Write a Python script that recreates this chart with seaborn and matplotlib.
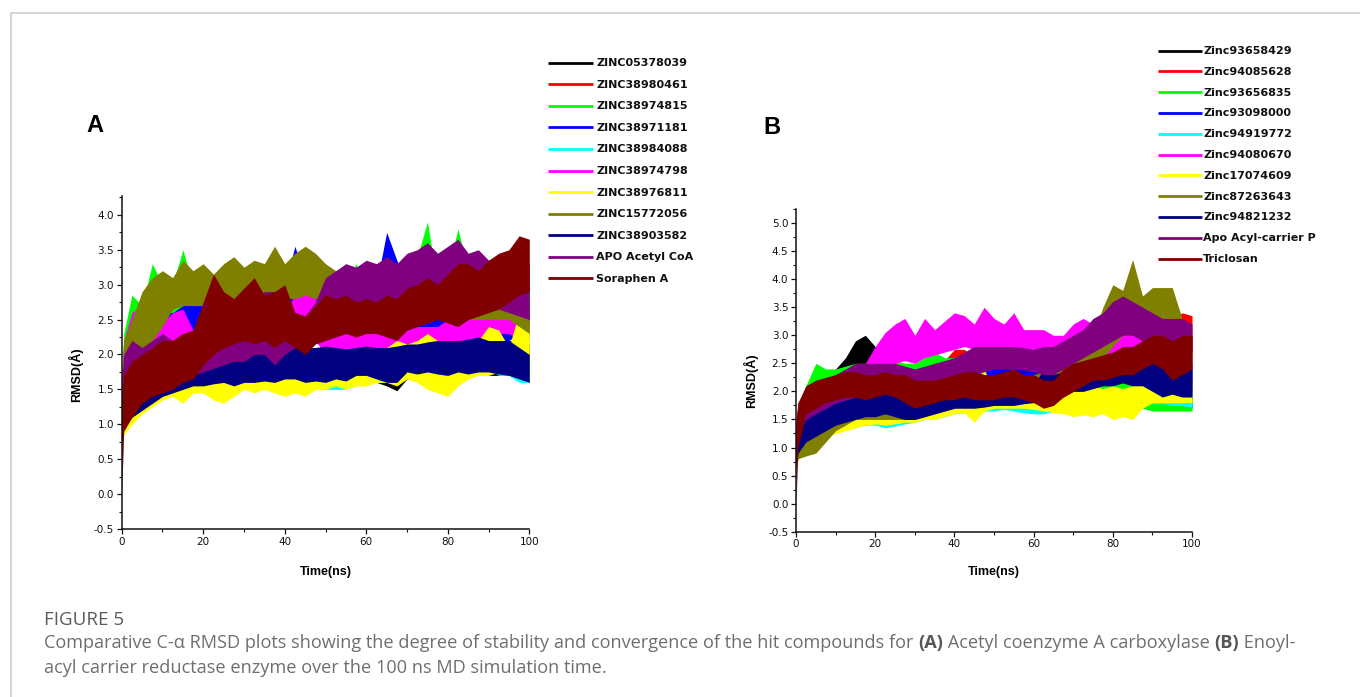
import pandas as pd
import seaborn as sns
import matplotlib.pyplot as plt
from matplotlib.ticker import MultipleLocator

# time axis (ns), shared by every trace
TIME = [0, 0.5, 2.5, 5, 7.5, 10, 12.5, 15, 17.5, 20, 22.5, 25, 27.5, 30, 32.5, 35, 37.5, 40,
        42.5, 45, 47.5, 50, 52.5, 55, 57.5, 60, 62.5, 65, 67.5, 70, 72.5, 75, 77.5, 80,
        82.5, 85, 87.5, 90, 92.5, 95, 97.5, 100]

A_LABELS = ['ZINC05378039', 'ZINC38980461', 'ZINC38974815', 'ZINC38971181', 'ZINC38984088',
            'ZINC38974798', 'ZINC38976811', 'ZINC15772056', 'ZINC38903582', 'APO Acetyl CoA',
            'Soraphen A']
B_LABELS = ['Zinc93658429', 'Zinc94085628', 'Zinc93656835', 'Zinc93098000', 'Zinc94919772',
            'Zinc94080670', 'Zinc17074609', 'Zinc87263643', 'Zinc94821232',
            'Apo Acyl-carrier P', 'Triclosan']
COLORS = ['#000000', '#ff0000', '#00ff00', '#0000ff', '#00ffff', '#ff00ff', '#ffff00',
          '#808000', '#000080', '#800080', '#800000']

# ---- panel A: lower / upper envelope of each RMSD trace (A) ----
a_black_lo = [0.8, 1.1, 1.2, 1.35, 1.45, 1.5, 1.5, 1.55, 1.5, 1.55, 1.5, 1.5, 1.45, 1.5, 1.55, 1.5, 1.55, 1.55,
              1.6, 1.55, 1.6, 1.6, 1.6, 1.6, 1.6, 1.6, 1.6, 1.55, 1.48, 1.65, 1.65, 1.7, 1.7, 1.7, 1.7, 1.7,
              1.75, 1.7, 1.7, 1.7, 1.7, 1.7]
a_black_hi = [1.4, 1.7, 1.8, 1.9, 1.95, 2.0, 2.0, 2.05, 2.0, 2.05, 2.0, 2.0, 2.0, 2.05, 2.05, 2.0, 2.05, 2.05,
              2.1, 2.05, 2.1, 2.1, 2.1, 2.1, 2.1, 2.1, 2.1, 2.15, 2.1, 2.15, 2.2, 2.2, 2.2, 2.2, 2.2, 2.2,
              2.25, 2.2, 2.2, 2.2, 2.2, 2.15]
a_red_lo = [0.8, 1.2, 1.4, 1.6, 1.8, 1.9, 2.0, 2.0, 2.1, 2.1, 2.2, 2.2, 2.2, 2.3, 2.3, 2.3, 2.3, 2.3,
            2.3, 2.3, 2.4, 2.4, 2.5, 2.5, 2.5, 2.5, 2.5, 2.5, 2.5, 2.5, 2.6, 2.6, 2.6, 2.6, 2.6, 2.6,
            2.6, 2.6, 2.6, 2.6, 2.6, 2.6]
a_red_hi = [1.5, 1.9, 2.2, 2.4, 2.5, 2.6, 2.7, 2.7, 2.8, 2.8, 2.9, 2.9, 2.9, 3.0, 3.0, 3.0, 3.0, 3.0,
            3.0, 3.0, 3.0, 3.1, 3.15, 3.3, 3.1, 3.1, 3.0, 3.0, 3.1, 3.1, 3.1, 3.2, 3.1, 3.2, 3.2, 3.2,
            3.2, 3.2, 3.2, 3.2, 3.2, 3.2]
a_green_lo = [0.9, 1.4, 1.6, 1.8, 1.9, 2.0, 2.0, 2.1, 2.1, 2.1, 2.2, 2.2, 2.2, 2.2, 2.2, 2.2, 2.2, 2.2,
              2.2, 2.2, 2.2, 2.2, 2.2, 2.2, 2.2, 2.2, 2.2, 2.2, 2.2, 2.2, 2.3, 2.3, 2.3, 2.3, 2.3, 2.3,
              2.3, 2.3, 2.3, 2.3, 2.3, 2.3]
a_green_hi = [1.7, 2.3, 2.85, 2.7, 3.3, 3.0, 3.0, 3.5, 3.0, 2.9, 2.9, 2.9, 2.9, 2.9, 2.9, 2.9, 2.9, 2.9,
              2.9, 2.9, 2.9, 2.9, 3.0, 3.0, 3.3, 3.0, 3.0, 3.0, 3.0, 3.1, 3.4, 3.9, 3.0, 3.2, 3.8, 3.2,
              3.1, 3.1, 3.0, 3.0, 3.0, 2.9]
a_blue_lo = [0.9, 1.3, 1.6, 1.8, 1.9, 2.0, 2.1, 2.2, 2.3, 2.3, 2.2, 2.2, 2.2, 2.2, 2.2, 2.2, 2.2, 2.2,
             2.3, 2.3, 2.3, 2.3, 2.3, 2.3, 2.3, 2.3, 2.3, 2.3, 2.3, 2.3, 2.3, 2.3, 2.3, 2.2, 2.2, 2.2,
             2.2, 2.2, 2.2, 2.2, 2.3, 2.3]
a_blue_hi = [1.6, 2.1, 2.3, 2.5, 2.5, 2.6, 2.6, 2.7, 2.75, 2.75, 2.8, 2.8, 2.8, 2.9, 2.9, 2.9, 3.0, 3.0,
             3.55, 3.1, 3.0, 3.0, 3.0, 3.0, 3.0, 3.0, 3.0, 3.75, 3.35, 3.0, 3.0, 3.0, 3.0, 3.0, 3.0, 2.9,
             2.8, 2.7, 2.7, 2.7, 2.65, 2.6]
a_cyan_lo = [0.8, 1.0, 1.2, 1.3, 1.4, 1.45, 1.5, 1.5, 1.5, 1.5, 1.5, 1.5, 1.5, 1.5, 1.5, 1.5, 1.5, 1.5,
             1.5, 1.5, 1.5, 1.5, 1.5, 1.5, 1.55, 1.6, 1.6, 1.6, 1.6, 1.7, 1.8, 1.9, 2.0, 2.0, 1.9, 1.8,
             1.8, 1.8, 1.7, 1.7, 1.6, 1.6]
a_cyan_hi = [1.4, 1.7, 1.9, 2.0, 2.0, 2.1, 2.1, 2.2, 2.1, 2.1, 2.0, 2.0, 2.0, 2.0, 2.0, 2.0, 2.0, 1.95,
             1.95, 2.0, 2.0, 2.0, 1.95, 1.95, 2.0, 2.0, 2.0, 2.0, 2.05, 2.1, 2.2, 2.3, 2.3, 2.3, 2.25, 2.2,
             2.2, 2.2, 2.1, 2.1, 2.0, 2.0]
a_magenta_lo = [1.0, 1.5, 2.0, 2.1, 2.0, 2.0, 2.05, 2.1, 2.1, 2.0, 2.0, 2.0, 2.0, 2.0, 2.0, 2.0, 2.0, 2.0,
                2.2, 2.4, 2.2, 2.0, 2.0, 2.0, 2.0, 2.0, 2.0, 2.0, 2.0, 2.05, 2.05, 2.05, 2.1, 2.1, 2.2, 2.2,
                2.2, 2.2, 2.3, 2.3, 2.2, 2.2]
a_magenta_hi = [1.6, 2.2, 2.6, 2.7, 2.5, 2.45, 2.6, 2.65, 2.35, 2.3, 2.3, 2.35, 2.4, 2.4, 2.4, 2.4, 2.4, 2.6,
                2.85, 2.9, 2.8, 2.5, 2.4, 2.3, 2.3, 2.3, 2.3, 2.3, 2.3, 2.35, 2.4, 2.4, 2.4, 2.5, 2.5, 2.6,
                2.65, 2.6, 2.65, 2.6, 2.55, 2.5]
a_yellow_lo = [0.7, 0.85, 1.0, 1.15, 1.25, 1.35, 1.4, 1.3, 1.45, 1.45, 1.35, 1.3, 1.4, 1.5, 1.45, 1.5, 1.45, 1.4,
               1.45, 1.4, 1.5, 1.5, 1.55, 1.5, 1.55, 1.55, 1.6, 1.6, 1.55, 1.65, 1.6, 1.5, 1.45, 1.4, 1.55, 1.65,
               1.7, 1.7, 1.75, 1.75, 1.8, 1.7]
a_yellow_hi = [1.1, 1.3, 1.45, 1.6, 1.65, 1.7, 1.75, 1.8, 1.75, 1.75, 1.7, 1.75, 1.8, 1.8, 1.8, 1.85, 1.8, 1.8,
               1.85, 1.85, 1.85, 1.85, 1.85, 1.9, 1.9, 1.9, 1.95, 2.1, 2.2, 2.15, 2.2, 2.3, 2.2, 2.1, 2.0, 2.1,
               2.2, 2.4, 2.35, 2.1, 2.6, 2.4]
a_olive_lo = [0.9, 1.5, 1.9, 2.0, 2.2, 2.4, 2.65, 2.7, 2.7, 2.7, 2.7, 2.7, 2.75, 2.8, 2.8, 2.8, 2.8, 2.8,
              2.8, 2.85, 2.8, 2.7, 2.7, 2.7, 2.6, 2.5, 2.4, 2.4, 2.4, 2.5, 2.6, 2.7, 2.7, 2.6, 2.5, 2.5,
              2.5, 2.5, 2.5, 2.5, 2.4, 2.3]
a_olive_hi = [1.6, 2.2, 2.5, 2.9, 3.1, 3.2, 3.1, 3.35, 3.2, 3.3, 3.15, 3.3, 3.4, 3.25, 3.35, 3.3, 3.55, 3.3,
              3.45, 3.55, 3.45, 3.3, 3.2, 3.25, 3.0, 2.9, 2.8, 2.8, 2.85, 2.9, 3.0, 3.1, 3.0, 2.9, 2.9, 2.9,
              2.9, 2.9, 3.0, 3.0, 2.8, 2.7]
a_navy_lo = [0.8, 1.0, 1.1, 1.2, 1.3, 1.4, 1.45, 1.5, 1.55, 1.55, 1.58, 1.6, 1.55, 1.6, 1.6, 1.62, 1.6, 1.65,
             1.65, 1.6, 1.62, 1.6, 1.65, 1.62, 1.7, 1.7, 1.65, 1.6, 1.6, 1.75, 1.72, 1.75, 1.72, 1.7, 1.75, 1.72,
             1.75, 1.75, 1.72, 1.7, 1.65, 1.6]
a_navy_hi = [1.3, 1.5, 1.55, 1.65, 1.7, 1.8, 1.85, 1.9, 1.92, 1.95, 1.98, 2.0, 2.05, 2.1, 2.05, 2.1, 2.08, 2.1,
             2.12, 2.1, 2.1, 2.12, 2.1, 2.08, 2.1, 2.12, 2.1, 2.1, 2.12, 2.15, 2.15, 2.18, 2.2, 2.2, 2.2, 2.22,
             2.25, 2.2, 2.2, 2.2, 2.1, 2.0]
a_purple_lo = [0.9, 1.3, 1.4, 1.5, 1.55, 1.6, 1.6, 1.65, 1.7, 1.75, 1.8, 1.85, 1.9, 1.9, 2.0, 2.0, 1.85, 2.0,
               2.1, 2.2, 2.3, 2.4, 2.45, 2.5, 2.6, 2.65, 2.7, 2.7, 2.75, 2.8, 2.8, 2.8, 2.85, 2.8, 2.8, 2.75,
               2.7, 2.7, 2.65, 2.6, 2.55, 2.5]
a_purple_hi = [1.6, 2.0, 2.2, 2.1, 2.2, 2.3, 2.2, 2.3, 2.3, 2.5, 2.6, 2.8, 2.7, 2.8, 2.8, 2.9, 2.9, 2.8,
               2.6, 2.55, 2.75, 3.1, 3.2, 3.3, 3.25, 3.35, 3.3, 3.4, 3.3, 3.45, 3.5, 3.6, 3.45, 3.55, 3.65, 3.45,
               3.5, 3.35, 3.4, 3.45, 3.35, 3.3]
a_wine_lo = [0.0, 0.9, 1.1, 1.3, 1.4, 1.45, 1.5, 1.6, 1.65, 1.85, 2.0, 2.1, 2.15, 2.2, 2.15, 2.2, 2.1, 2.2,
             2.1, 2.0, 2.15, 2.2, 2.25, 2.3, 2.25, 2.3, 2.3, 2.25, 2.2, 2.35, 2.4, 2.45, 2.5, 2.45, 2.4, 2.5,
             2.55, 2.6, 2.65, 2.75, 2.85, 2.9]
a_wine_hi = [1.4, 1.7, 1.9, 2.0, 2.1, 2.2, 2.2, 2.3, 2.35, 2.75, 3.15, 2.9, 2.8, 2.95, 3.1, 2.85, 2.9, 3.0,
             2.6, 2.55, 2.7, 2.85, 2.8, 2.85, 2.75, 2.8, 2.75, 2.85, 2.8, 2.95, 3.0, 3.1, 3.0, 3.15, 3.3, 3.3,
             3.2, 3.35, 3.45, 3.5, 3.7, 3.65]

# ---- panel B ----
b_black_lo = [0.7, 1.2, 1.5, 1.7, 1.9, 2.0, 2.2, 2.4, 2.4, 2.2, 2.1, 2.0, 2.0, 2.0, 2.0, 2.05, 2.1, 2.1,
              2.2, 2.2, 2.25, 2.3, 2.3, 2.3, 2.3, 2.3, 2.25, 2.2, 2.2, 2.2, 2.25, 2.3, 2.3, 2.3, 2.3, 2.25,
              2.2, 2.1, 2.0, 1.9, 1.8, 1.7]
b_black_hi = [1.2, 1.7, 2.1, 2.2, 2.3, 2.4, 2.6, 2.9, 3.0, 2.8, 2.6, 2.5, 2.45, 2.4, 2.45, 2.5, 2.55, 2.6,
              2.6, 2.65, 2.7, 2.8, 2.8, 2.75, 2.7, 2.7, 2.65, 2.6, 2.6, 2.6, 2.65, 2.7, 2.7, 2.7, 2.7, 2.65,
              2.6, 2.5, 2.45, 2.35, 2.25, 2.2]
b_red_lo = [0.6, 1.0, 1.5, 1.6, 1.7, 1.8, 1.8, 1.9, 1.9, 2.0, 2.0, 2.0, 2.0, 2.05, 2.1, 2.1, 2.1, 2.3,
            2.2, 2.2, 2.2, 2.2, 2.2, 2.2, 2.2, 2.2, 2.2, 2.25, 2.3, 2.3, 2.35, 2.4, 2.4, 2.45, 2.5, 2.5,
            2.5, 2.55, 2.6, 2.6, 2.6, 2.6]
b_red_hi = [1.2, 1.6, 2.0, 2.1, 2.2, 2.3, 2.3, 2.35, 2.4, 2.4, 2.45, 2.45, 2.5, 2.5, 2.5, 2.55, 2.55, 2.75,
            2.75, 2.6, 2.6, 2.6, 2.65, 2.65, 2.65, 2.65, 2.6, 2.65, 2.7, 2.7, 2.8, 2.85, 2.9, 3.1, 3.0, 2.95,
            3.0, 3.1, 3.2, 3.3, 3.4, 3.35]
b_green_lo = [0.8, 1.2, 1.6, 1.8, 1.9, 1.9, 1.95, 2.0, 2.0, 2.0, 2.05, 2.1, 2.1, 2.1, 2.1, 2.15, 2.1, 2.1,
              2.1, 2.1, 2.05, 2.05, 2.05, 2.0, 2.0, 2.0, 2.0, 2.0, 1.95, 1.95, 1.95, 1.9, 1.9, 1.9, 1.85, 1.8,
              1.7, 1.65, 1.65, 1.65, 1.65, 1.65]
b_green_hi = [1.3, 1.7, 2.1, 2.5, 2.4, 2.4, 2.45, 2.5, 2.5, 2.5, 2.5, 2.55, 2.5, 2.5, 2.6, 2.7, 2.6, 2.6,
              2.55, 2.55, 2.5, 2.5, 2.5, 2.5, 2.5, 2.45, 2.45, 2.45, 2.4, 2.4, 2.4, 2.4, 2.4, 2.4, 2.35, 2.3,
              2.1, 2.0, 1.95, 1.95, 1.9, 1.9]
b_blue_lo = [0.8, 1.1, 1.3, 1.4, 1.5, 1.6, 1.65, 1.7, 1.7, 1.75, 1.75, 1.75, 1.75, 1.75, 1.8, 1.8, 1.85, 1.9,
             1.9, 1.95, 2.0, 2.1, 2.2, 2.2, 2.1, 2.0, 1.95, 2.0, 2.0, 2.05, 2.1, 2.15, 2.2, 2.25, 2.25, 2.2,
             2.15, 2.1, 2.05, 2.0, 2.0, 2.0]
b_blue_hi = [1.3, 1.6, 1.8, 1.9, 2.0, 2.05, 2.1, 2.15, 2.15, 2.2, 2.2, 2.2, 2.25, 2.25, 2.3, 2.3, 2.35, 2.4,
             2.45, 2.5, 2.55, 2.65, 2.75, 2.7, 2.55, 2.4, 2.35, 2.4, 2.45, 2.5, 2.5, 2.55, 2.6, 2.65, 2.65, 2.6,
             2.6, 2.55, 2.5, 2.55, 2.6, 2.5]
b_cyan_lo = [0.6, 0.8, 1.05, 1.15, 1.25, 1.3, 1.35, 1.35, 1.4, 1.4, 1.35, 1.38, 1.42, 1.45, 1.5, 1.5, 1.55, 1.6,
             1.62, 1.65, 1.65, 1.65, 1.68, 1.65, 1.62, 1.6, 1.6, 1.65, 1.7, 1.72, 1.72, 1.75, 1.78, 1.78, 1.8, 1.8,
             1.8, 1.78, 1.78, 1.75, 1.75, 1.72]
b_cyan_hi = [1.0, 1.2, 1.4, 1.5, 1.6, 1.65, 1.68, 1.7, 1.72, 1.7, 1.7, 1.72, 1.75, 1.78, 1.8, 1.82, 1.85, 1.88,
             1.9, 1.92, 1.92, 1.92, 1.92, 1.9, 1.9, 1.88, 1.88, 1.9, 1.95, 1.98, 2.0, 2.02, 2.05, 2.05, 2.05, 2.05,
             2.05, 2.05, 2.02, 2.05, 2.0, 1.98]
b_magenta_lo = [0.9, 1.2, 1.4, 1.5, 1.6, 1.7, 1.8, 1.9, 2.0, 2.2, 2.4, 2.5, 2.55, 2.5, 2.6, 2.65, 2.7, 2.75,
                2.8, 2.75, 2.8, 2.8, 2.75, 2.8, 2.75, 2.75, 2.7, 2.65, 2.6, 2.65, 2.6, 2.55, 2.5, 2.5, 2.55, 2.55,
                2.45, 2.4, 2.4, 2.4, 2.4, 2.4]
b_magenta_hi = [1.4, 1.7, 1.9, 2.0, 2.1, 2.2, 2.3, 2.4, 2.5, 2.8, 3.05, 3.2, 3.3, 3.0, 3.3, 3.1, 3.25, 3.4,
                3.35, 3.2, 3.5, 3.3, 3.2, 3.4, 3.1, 3.1, 3.1, 3.0, 3.0, 3.2, 3.3, 3.2, 3.0, 3.0, 3.0, 3.0,
                2.95, 2.6, 2.6, 2.6, 2.6, 2.6]
b_yellow_lo = [0.6, 0.8, 1.0, 1.1, 1.2, 1.25, 1.3, 1.35, 1.4, 1.42, 1.4, 1.42, 1.45, 1.45, 1.5, 1.5, 1.55, 1.6,
               1.62, 1.45, 1.65, 1.7, 1.7, 1.7, 1.7, 1.68, 1.65, 1.62, 1.6, 1.55, 1.58, 1.55, 1.6, 1.5, 1.55, 1.5,
               1.7, 1.8, 1.8, 1.8, 1.8, 1.8]
b_yellow_hi = [1.0, 1.2, 1.4, 1.5, 1.6, 1.65, 1.7, 1.75, 1.78, 1.8, 1.8, 1.8, 1.8, 1.8, 1.82, 1.85, 1.88, 1.9,
               1.92, 2.2, 2.4, 2.0, 2.0, 2.0, 1.98, 1.98, 1.96, 1.95, 2.0, 2.05, 2.05, 2.1, 2.05, 2.1, 2.05, 2.1,
               2.25, 2.1, 2.2, 2.3, 2.2, 2.2]
b_olive_lo = [0.6, 0.8, 0.85, 0.9, 1.1, 1.3, 1.4, 1.5, 1.5, 1.5, 1.5, 1.5, 1.5, 1.5, 1.55, 1.6, 1.65, 1.7,
              1.75, 1.8, 1.85, 1.85, 1.85, 1.9, 1.9, 1.9, 1.95, 2.0, 2.0, 2.05, 2.2, 2.4, 2.6, 2.8, 3.0, 3.0,
              3.0, 3.2, 3.2, 3.1, 2.6, 2.4]
b_olive_hi = [1.0, 1.1, 1.2, 1.3, 1.5, 1.7, 1.85, 1.95, 1.9, 1.9, 1.85, 1.8, 1.8, 1.8, 1.85, 1.9, 1.95, 2.0,
              2.1, 2.4, 2.3, 2.2, 2.2, 2.25, 2.25, 2.3, 2.35, 2.4, 2.45, 2.5, 2.8, 3.0, 3.5, 3.9, 3.8, 4.35,
              3.7, 3.85, 3.85, 3.85, 3.3, 3.0]
b_navy_lo = [0.7, 0.9, 1.1, 1.2, 1.3, 1.4, 1.45, 1.5, 1.55, 1.55, 1.6, 1.55, 1.5, 1.5, 1.55, 1.6, 1.65, 1.7,
             1.7, 1.7, 1.72, 1.75, 1.75, 1.75, 1.78, 1.8, 1.8, 1.9, 1.9, 2.0, 2.0, 2.05, 2.1, 2.1, 2.15, 2.1,
             2.1, 2.0, 1.9, 1.95, 1.9, 1.9]
b_navy_hi = [1.2, 1.4, 1.5, 1.65, 1.7, 1.8, 1.85, 1.9, 1.95, 1.95, 1.95, 1.9, 1.85, 1.8, 1.85, 1.95, 2.0, 2.05,
             2.05, 2.05, 2.05, 2.05, 2.08, 2.1, 2.1, 2.1, 2.4, 2.3, 2.35, 2.4, 2.4, 2.45, 2.5, 2.5, 2.55, 2.5,
             2.6, 2.5, 2.45, 2.5, 2.4, 2.4]
b_purple_lo = [0.8, 1.2, 1.5, 1.6, 1.7, 1.8, 1.85, 1.9, 1.95, 2.0, 2.0, 2.0, 2.0, 2.0, 2.05, 2.1, 2.15, 2.2,
               2.25, 2.3, 2.35, 2.4, 2.4, 2.4, 2.38, 2.35, 2.3, 2.3, 2.4, 2.5, 2.6, 2.7, 2.8, 2.9, 3.0, 3.0,
               2.9, 2.8, 2.8, 2.7, 2.8, 2.7]
b_purple_hi = [1.4, 1.8, 2.0, 2.1, 2.2, 2.3, 2.4, 2.5, 2.5, 2.5, 2.5, 2.5, 2.45, 2.4, 2.45, 2.5, 2.55, 2.6,
               2.7, 2.8, 2.8, 2.8, 2.8, 2.8, 2.78, 2.75, 2.8, 2.8, 2.9, 3.0, 3.1, 3.3, 3.4, 3.6, 3.7, 3.6,
               3.5, 3.4, 3.3, 3.3, 3.3, 3.2]
b_wine_lo = [0.0, 1.0, 1.6, 1.7, 1.8, 1.85, 1.9, 1.9, 1.85, 1.9, 1.95, 1.9, 1.8, 1.7, 1.75, 1.8, 1.85, 1.85,
             1.9, 1.85, 1.85, 1.85, 1.9, 1.9, 1.85, 1.8, 1.7, 1.75, 1.9, 2.0, 2.1, 2.2, 2.2, 2.25, 2.3, 2.3,
             2.4, 2.5, 2.4, 2.2, 2.3, 2.4]
b_wine_hi = [1.5, 1.8, 2.1, 2.2, 2.25, 2.3, 2.35, 2.35, 2.3, 2.3, 2.35, 2.3, 2.3, 2.2, 2.2, 2.2, 2.25, 2.3,
             2.35, 2.35, 2.3, 2.3, 2.35, 2.4, 2.3, 2.3, 2.2, 2.2, 2.4, 2.5, 2.55, 2.6, 2.65, 2.7, 2.8, 2.8,
             2.9, 3.0, 3.0, 2.9, 3.0, 3.0]

A_LO = [a_black_lo, a_red_lo, a_green_lo, a_blue_lo, a_cyan_lo, a_magenta_lo, a_yellow_lo,
        a_olive_lo, a_navy_lo, a_purple_lo, a_wine_lo]
A_HI = [a_black_hi, a_red_hi, a_green_hi, a_blue_hi, a_cyan_hi, a_magenta_hi, a_yellow_hi,
        a_olive_hi, a_navy_hi, a_purple_hi, a_wine_hi]
B_LO = [b_black_lo, b_red_lo, b_green_lo, b_blue_lo, b_cyan_lo, b_magenta_lo, b_yellow_lo,
        b_olive_lo, b_navy_lo, b_purple_lo, b_wine_lo]
B_HI = [b_black_hi, b_red_hi, b_green_hi, b_blue_hi, b_cyan_hi, b_magenta_hi, b_yellow_hi,
        b_olive_hi, b_navy_hi, b_purple_hi, b_wine_hi]

sns.set_style('ticks')
plt.rcParams['font.family'] = ['DejaVu Sans']
plt.rcParams['axes.unicode_minus'] = False
plt.rcParams['text.color'] = 'black'
plt.rcParams['axes.labelcolor'] = 'black'

fig = plt.figure(figsize=(13.6, 6.97), dpi=100)
W, H = 1360, 697


def px_axes(left, top, right, bottom):
    return fig.add_axes([left / W, 1 - bottom / H, (right - left) / W, (bottom - top) / H])


def draw_panel(ax, los, his, ymax):
    for i, (lo, hi, c) in enumerate(zip(los, his, COLORS)):
        df = pd.DataFrame({'t': TIME + TIME, 'rmsd': lo + hi})
        # band between min and max of the envelope, like the dense MD trace;
        # later compounds sit on top, as in the Origin plot
        sns.lineplot(data=df, x='t', y='rmsd', estimator='mean', errorbar=('pi', 100),
                     color=c, lw=0.6, zorder=1 + i,
                     err_kws={'alpha': 1, 'lw': 0, 'zorder': 1 + i}, legend=False, ax=ax)
    ax.set_xlim(0, 100)
    ax.set_ylim(-0.5, ymax)
    ax.xaxis.set_major_locator(MultipleLocator(20))
    ax.xaxis.set_minor_locator(MultipleLocator(10))
    ax.yaxis.set_major_locator(MultipleLocator(0.5))
    ax.yaxis.set_minor_locator(MultipleLocator(0.25))
    ax.yaxis.set_major_formatter('{x:.1f}')
    sns.despine(ax=ax)
    for s in ['left', 'bottom']:
        ax.spines[s].set_linewidth(1.1)
        ax.spines[s].set_color('#111111')
        ax.spines[s].set_zorder(20)
    ax.tick_params(which='major', length=3.5, width=0.9, labelsize=7.5, colors='#111111', pad=2)
    ax.tick_params(which='minor', length=2, width=0.8, colors='#111111')
    ax.set_xlabel('Time(ns)', fontfamily='Liberation Sans', fontweight='bold', fontsize=9)
    ax.set_ylabel('RMSD(Å)', fontfamily='Liberation Sans', fontweight='bold', fontsize=9)


axA = px_axes(121.7, 196, 529.3, 529)
draw_panel(axA, A_LO, A_HI, 4.27)
axA.xaxis.set_label_coords(0.5, -0.111)
axA.yaxis.set_label_coords(-0.095, 0.462)

axB = px_axes(796, 209, 1192, 531.7)
draw_panel(axB, B_LO, B_HI, 5.25)
axB.xaxis.set_label_coords(0.5, -0.106)
axB.yaxis.set_label_coords(-0.096, 0.467)

# overlay in pixel coordinates for frame, panel letters, legends and caption
ov = fig.add_axes([0, 0, 1, 1])
ov.set_xlim(0, W)
ov.set_ylim(H, 0)
ov.axis('off')

ov.plot([11, W], [13, 13], color='#d6d6d6', lw=1.5, clip_on=False)
ov.plot([11, 11], [13, H], color='#d6d6d6', lw=1.5, clip_on=False)

ov.text(94.5, 125, 'A', ha='center', va='center', fontsize=17, fontweight='bold',
        fontfamily='Liberation Sans')
ov.text(772, 127, 'B', ha='center', va='center', fontsize=17, fontweight='bold',
        fontfamily='Liberation Sans')


def draw_legend(labels, x0, x1, xt, y0, dy):
    for i, (lab, c) in enumerate(zip(labels, COLORS)):
        y = y0 + i * dy
        ov.plot([x0, x1], [y, y], color=c, lw=2, solid_capstyle='butt')
        ov.text(xt, y + 0.5, lab, ha='left', va='center', fontsize=8, fontweight='bold',
                color='#111111')


draw_legend(A_LABELS, 548, 593, 596.5, 62.7, 21.56)
draw_legend(B_LABELS, 1158, 1202, 1203, 50.5, 20.8)

# caption
grey = '#6d6e71'
CAP = 13.1
ov.text(44, 625, 'FIGURE 5', ha='left', va='baseline', fontsize=13.5, color='#5a5b5d',
        fontfamily='Open Sans')
segs = [('Comparative C-α RMSD plots showing the degree of stability and convergence of the hit '
         'compounds for ', 'normal'), ('(A)', 'bold'), (' Acetyl coenzyme A carboxylase ', 'normal'),
        ('(B)', 'bold'), (' Enoyl-', 'normal')]
prev = None
for s, w in segs:
    col = '#555658' if w == 'bold' else grey
    if prev is None:
        prev = ov.text(44, 648, s, ha='left', va='baseline', fontsize=CAP, color=col,
                       fontweight=w, fontfamily='Open Sans')
    else:
        prev = ov.annotate(s, xy=(1, 0), xycoords=prev, ha='left', va='bottom', fontsize=CAP,
                           color=col, fontweight=w, fontfamily='Open Sans')
ov.text(44, 673, 'acyl carrier reductase enzyme over the 100 ns MD simulation time.', ha='left',
        va='baseline', fontsize=CAP, color=grey, fontfamily='Open Sans')

fig.savefig('out.png', dpi=100)
